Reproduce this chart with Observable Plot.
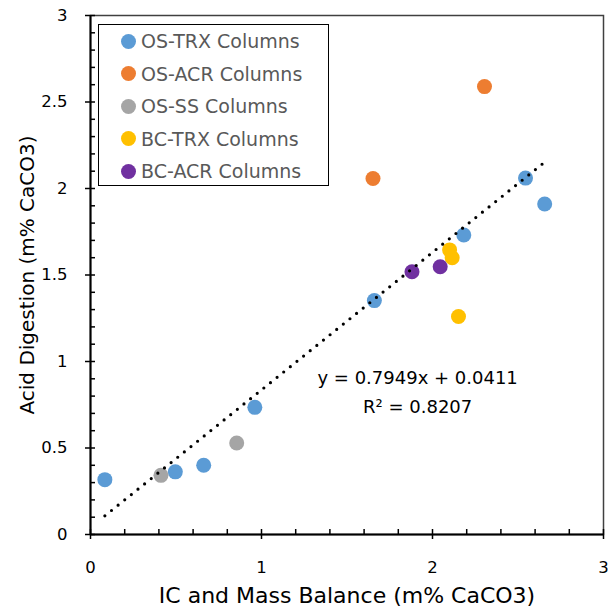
<!DOCTYPE html>
<html><head><meta charset="utf-8">
<script src="https://cdn.jsdelivr.net/npm/d3@7"></script>
<script src="https://cdn.jsdelivr.net/npm/@observablehq/plot@0.6"></script>
<style>
body{margin:0;background:#fff;font-family:"DejaVu Sans",sans-serif}
#wrap{position:relative;width:608px;height:615px}
#legend{position:absolute;left:98px;top:24px;width:229px;height:160px;border:1.5px solid #000;background:#fff;box-sizing:content-box}
.item{position:absolute;left:0;height:32px;display:flex;align-items:center;font-size:19px;color:#595959;white-space:nowrap}
.sw{width:15px;height:15px;border-radius:50%;margin-left:22px;margin-right:5px}
</style>
</head><body><div id="wrap"></div>
<script>
const seriesNames = ["OS-TRX Columns","OS-ACR Columns","OS-SS Columns","BC-TRX Columns","BC-ACR Columns"];
const seriesColors = ["#5B9BD5","#ED7D31","#A5A5A5","#FFC000","#7030A0"];
const osTrxX = [0.084, 0.496, 0.662, 0.961, 1.66, 2.183, 2.544, 2.656];
const osTrxY = [0.317, 0.362, 0.400, 0.735, 1.352, 1.731, 2.060, 1.910];
const osAcrX = [1.652, 2.304];
const osAcrY = [2.058, 2.589];
const osSsX = [0.412, 0.855];
const osSsY = [0.342, 0.529];
const bcTrxX = [2.100, 2.115, 2.152];
const bcTrxY = [1.645, 1.600, 1.260];
const bcAcrX = [1.880, 2.045];
const bcAcrY = [1.519, 1.548];
const slope = 0.7949, intercept = 0.0411, r2 = 0.8207;
const xMajor = [0, 1, 2, 3];
const yMajor = [0, 0.5, 1, 1.5, 2, 2.5, 3];
const xLabel = "IC and Mass Balance (m% CaCO3)";
const yLabel = "Acid Digestion (m% CaCO3)";

const xs = [osTrxX, osAcrX, osSsX, bcTrxX, bcAcrX];
const ys = [osTrxY, osAcrY, osSsY, bcTrxY, bcAcrY];
const pts = [];
xs.forEach((arr, s) => arr.forEach((x, i) => pts.push({s, x, y: ys[s][i]})));
const ext = d3.extent(pts, d => d.x);
const trend = ext.map(x => ({x, y: slope * x + intercept}));
const xMinor = d3.range(0, 3.001, 0.2);
const yMinor = d3.range(0, 3.001, 0.1);

const font = "DejaVu Sans, sans-serif";
const chart = Plot.plot({
  width: 608, height: 615,
  marginLeft: 90, marginRight: 5, marginTop: 15, marginBottom: 81,
  style: {fontFamily: font, background: "#fff", color: "#000"},
  x: {domain: [0, 3]},
  y: {domain: [0, 3]},
  marks: [
    Plot.frame({stroke: "#404040", strokeWidth: 1.5}),
    Plot.axisX(xMinor, {tickSize: -5, text: null, label: null, strokeWidth: 1.5}),
    Plot.axisY(yMinor, {tickSize: -5, text: null, label: null, strokeWidth: 1.5}),
    Plot.axisX(xMajor, {tickSize: 5, tickPadding: 22, fontSize: 16.5, fill: "#000", strokeWidth: 1.5,
      tickFormat: d => String(d),
      label: xLabel, labelAnchor: "center", labelArrow: "none", labelOffset: 68}),
    Plot.axisY(yMajor, {tickSize: 5, tickPadding: 18, fontSize: 16.5, fill: "#000", strokeWidth: 1.5,
      tickFormat: d => String(d),
      label: yLabel, labelAnchor: "center", labelArrow: "none", labelOffset: 71}),
    Plot.ruleX([0], {stroke: "#000", strokeWidth: 2}),
    Plot.ruleY([0], {stroke: "#000", strokeWidth: 2}),
    Plot.dot(pts, {x: "x", y: "y", r: 7.5, fill: d => seriesColors[d.s], stroke: null}),
    Plot.line(trend, {x: "x", y: "y", stroke: "#000", strokeWidth: 3.2, strokeDasharray: "0 8.5", strokeLinecap: "round"}),
    Plot.text([`y = ${slope}x + ${intercept}`, `R² = ${r2}`], {x: [1.913, 1.913], y: [0.906, 0.737], text: d => d, fontSize: 18, fill: "#000", textAnchor: "middle"})
  ]
});
chart.querySelectorAll("text").forEach(t => {
  if (t.textContent === xLabel) t.setAttribute("font-size", 22);
  if (t.textContent === yLabel) t.setAttribute("font-size", 20);
});
const wrap = document.getElementById("wrap");
wrap.appendChild(chart);
const lg = document.createElement("div");
lg.id = "legend";
seriesNames.forEach((n, i) => {
  const it = document.createElement("div");
  it.className = "item";
  it.style.top = (i * 32.5) + "px";
  it.innerHTML = `<span class="sw" style="background:${seriesColors[i]}"></span>${n}`;
  lg.appendChild(it);
});
wrap.appendChild(lg);
</script>
</body></html>
